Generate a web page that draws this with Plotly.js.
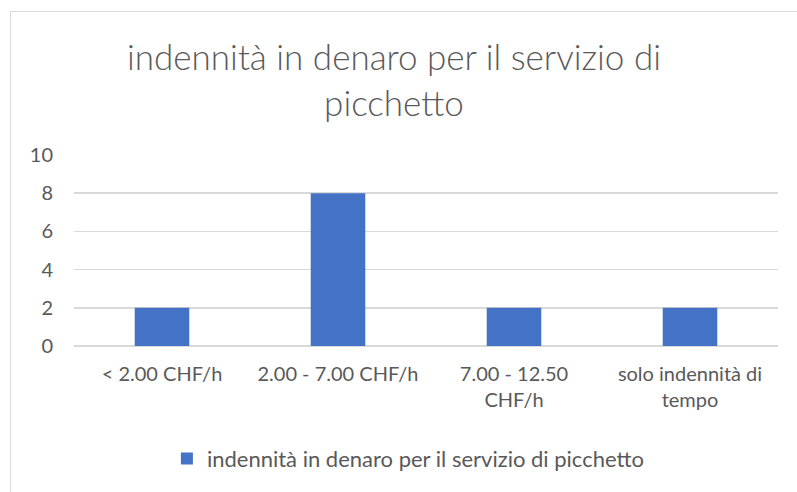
<!DOCTYPE html>
<html>
<head>
<meta charset="utf-8">
<script src="https://cdn.plot.ly/plotly-3.0.1.min.js"></script>
<style>
html,body{margin:0;padding:0;background:#fff;overflow:hidden;}
#chart{position:absolute;left:0;top:0;width:797px;height:492px;}
#frame{position:absolute;left:10px;top:11px;width:820px;height:520px;border:1px solid #d9d9d9;pointer-events:none;}
</style>
</head>
<body>
<div id="chart"></div>
<div id="frame"></div>
<script>
const categories = ["< 2.00 CHF/h", "2.00 - 7.00 CHF/h", "7.00 - 12.50<br>CHF/h", "solo indennità di<br>tempo"];
const values = [2, 8, 2, 2];
const seriesName = "indennità in denaro per il servizio di picchetto";
const chartTitle = "indennità in denaro per il servizio di<br>picchetto";
const yTicks = [0, 2, 4, 6, 8, 10];

const font = "Lato, 'Open Sans', sans-serif";
const grey = "#595959";

Plotly.newPlot("chart", [{
  type: "bar",
  x: categories,
  y: values,
  name: seriesName,
  marker: {color: "#4472C4"},
  width: 0.31,
  showlegend: true
}], {
  width: 797, height: 492,
  paper_bgcolor: "#fff", plot_bgcolor: "#fff",
  margin: {l: 74, r: 19, t: 155, b: 144},
  font: {family: font, color: grey, size: 20},
  title: {
    text: chartTitle,
    font: {family: font, size: 35, color: grey, weight: 300},
    x: 394/797, xref: "container", xanchor: "center",
    y: 1 - 70/492, yref: "container", yanchor: "top"
  },
  xaxis: {
    type: "category",
    showgrid: false, showline: false, zeroline: false, ticks: "",
    tickfont: {family: font, size: 20, color: grey},
    ticklabelstandoff: 14
  },
  yaxis: {
    range: [0, 10], tickvals: yTicks, ticktext: yTicks.map(String),
    showgrid: true, gridcolor: "#d9d9d9", gridwidth: 1.5,
    zeroline: true, zerolinecolor: "#d9d9d9", zerolinewidth: 1.5,
    showline: false, ticks: "",
    tickfont: {family: font, size: 20, color: grey},
    ticklabelstandoff: 20
  },
  legend: {
    orientation: "h", x: 0.475, xanchor: "center", y: -0.59, yanchor: "middle",
    font: {family: font, size: 22, color: grey},
    itemwidth: 30
  },
  showlegend: true
}, {displayModeBar: false, staticPlot: true});
</script>
</body>
</html>
